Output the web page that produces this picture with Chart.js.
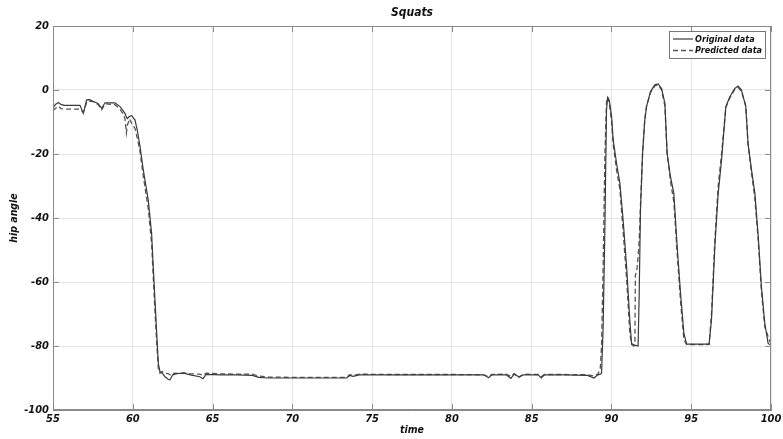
<!DOCTYPE html>
<html>
<head>
<meta charset="utf-8">
<script src="https://cdn.jsdelivr.net/npm/chart.js@4.4.1/dist/chart.umd.min.js"></script>
<style>
  html, body { margin: 0; padding: 0; background: #fff; }
</style>
</head>
<body>
<canvas id="chart" width="783" height="439"></canvas>
<script>
// time (s) and hip angle readings
const time = [
  55.00, 55.15, 55.33, 55.50, 55.70, 56.20, 56.69, 56.90, 57.11, 57.30,
  57.50, 57.82, 58.05, 58.26, 58.60, 58.88, 59.20, 59.40, 59.51, 59.60,
  59.66, 59.80, 59.93, 60.14, 60.28, 60.45, 60.66, 60.97, 61.18, 61.28,
  61.39, 61.50, 61.60, 61.70, 61.85, 62.02, 62.20, 62.33, 62.50, 62.80,
  63.20, 63.60, 64.20, 64.40, 64.60, 65.50, 66.50, 67.50, 67.90, 68.50,
  70.00, 72.00, 73.40, 73.60, 73.80, 74.20, 76.00, 78.00, 80.00, 82.00,
  82.30, 82.50, 83.40, 83.70, 83.90, 84.20, 84.50, 85.40, 85.60, 85.80,
  87.00, 88.50, 88.90, 89.15, 89.30, 89.38, 89.48, 89.59, 89.69, 89.76,
  89.86, 90.01, 90.11, 90.32, 90.53, 90.73, 90.95, 91.15, 91.26, 91.40,
  91.47, 91.50, 91.60, 91.67, 91.74, 91.82, 91.95, 92.09, 92.20, 92.45,
  92.72, 92.93, 93.14, 93.35, 93.49, 93.70, 93.91, 94.12, 94.33, 94.54,
  94.71, 95.54, 96.12, 96.27, 96.48, 96.69, 96.90, 97.17, 97.42, 97.73,
  97.94, 98.15, 98.42, 98.56, 98.78, 98.99, 99.20, 99.40, 99.61, 99.82,
  100.00
];
const originalData = [
  -5.7, -4.5, -3.9, -4.5, -4.8, -4.8, -4.8, -7.3, -3.1, -3.0,
  -3.5, -4.2, -5.7, -4.0, -4.0, -4.0, -5.2, -6.5, -7.3, -8.5,
  -8.9, -8.2, -8.0, -9.4, -12.5, -17.5, -25.0, -34.4, -44.8, -55.0,
  -65.6, -76.0, -85.4, -88.0, -88.5, -89.6, -90.3, -90.6, -89.0, -88.6,
  -88.5, -89.0, -89.6, -90.2, -88.9, -89.0, -89.0, -89.2, -89.8, -90.0,
  -90.0, -90.0, -90.0, -89.2, -89.5, -89.0, -89.0, -89.0, -89.0, -89.0,
  -89.9, -89.0, -89.0, -90.1, -88.8, -89.6, -89.0, -89.0, -90.0, -89.0,
  -89.0, -89.2, -90.0, -89.0, -88.8, -88.5, -74.0, -42.7, -6.3, -2.3,
  -3.1, -8.3, -15.6, -22.9, -29.2, -40.6, -55.2, -71.9, -79.2, -79.6,
  -79.7, -79.8, -79.9, -80.0, -63.5, -37.5, -19.8, -9.4, -5.2, -0.5,
  1.6, 1.9, 0.5, -4.2, -19.8, -27.1, -32.3, -49.0, -63.5, -76.0,
  -79.4, -79.4, -79.4, -71.9, -49.0, -32.3, -21.9, -5.2, -2.1, 0.5,
  1.25, 0.0, -5.2, -16.7, -25.0, -32.3, -45.8, -61.5, -72.9, -79.2,
  -79.8
];
const predictedData = [
  -6.5, -5.8, -5.0, -5.8, -6.0, -6.0, -6.0, -7.0, -3.8, -3.5,
  -3.6, -4.5, -6.2, -4.3, -4.5, -4.6, -6.0, -7.5, -9.0, -13.4,
  -11.0, -9.0, -10.5, -12.0, -15.0, -19.0, -27.0, -37.0, -48.0, -58.0,
  -69.0, -79.0, -87.0, -88.5, -88.0, -88.5, -88.6, -89.0, -88.5, -88.6,
  -88.4, -88.7, -88.8, -89.2, -88.5, -88.7, -88.8, -88.8, -89.4, -89.7,
  -89.8, -89.8, -89.8, -89.0, -89.2, -88.8, -88.9, -88.9, -88.9, -89.0,
  -89.6, -88.9, -88.8, -89.5, -88.6, -89.8, -88.8, -88.9, -89.6, -88.9,
  -88.9, -89.0, -89.4, -88.8, -87.0, -80.0, -55.0, -20.0, -4.0, -2.2,
  -4.0, -10.0, -17.0, -25.0, -31.0, -44.0, -59.0, -76.0, -79.5, -80.0,
  -79.5, -58.0, -56.0, -52.0, -47.0, -36.0, -20.0, -9.0, -5.0, -0.8,
  1.3, 1.6, 0.0, -5.0, -20.0, -28.5, -35.0, -51.0, -66.0, -78.0,
  -79.5, -79.6, -79.5, -70.0, -47.0, -30.0, -20.0, -5.5, -2.5, 0.2,
  0.8, -0.5, -5.0, -17.0, -26.0, -34.0, -47.0, -63.0, -74.0, -77.0,
  -79.5
];
const seriesNames = ["Original data", "Predicted data"];
const xTicks = [55, 60, 65, 70, 75, 80, 85, 90, 95, 100];
const yTicks = [-100, -80, -60, -40, -20, 0, 20];

const FAMILY = '"DejaVu Sans Condensed", "Liberation Sans Narrow", sans-serif';
const tickFont = { family: FAMILY, size: 11, style: "italic", weight: "bold" };
const labelFont = { family: FAMILY, size: 10.5, style: "italic", weight: "bold" };

function points(values) {
  return time.map((t, i) => ({ x: t, y: values[i] }));
}

// box, inward tick marks, title and legend, MATLAB-like
const framePlugin = {
  id: "frame",
  afterDraw(chart) {
    const { ctx, chartArea: a, scales } = chart;
    ctx.save();
    ctx.strokeStyle = "#8a8a8a";
    ctx.lineWidth = 1;
    ctx.strokeRect(a.left + 0.5, a.top + 0.5, a.right - a.left - 1, a.bottom - a.top - 1);
    ctx.beginPath();
    xTicks.forEach(v => {
      const px = Math.round(scales.x.getPixelForValue(v)) + 0.5;
      ctx.moveTo(px, a.bottom); ctx.lineTo(px, a.bottom - 6);
      ctx.moveTo(px, a.top); ctx.lineTo(px, a.top + 6);
    });
    yTicks.forEach(v => {
      const py = Math.round(scales.y.getPixelForValue(v)) + 0.5;
      ctx.moveTo(a.left, py); ctx.lineTo(a.left + 6, py);
      ctx.moveTo(a.right, py); ctx.lineTo(a.right - 6, py);
    });
    ctx.stroke();

    // title
    ctx.fillStyle = "#111";
    ctx.font = "italic bold 12px " + FAMILY;
    ctx.textAlign = "center";
    ctx.textBaseline = "middle";
    ctx.fillText("Squats", (a.left + a.right) / 2, 13);

    // legend
    const bx = a.right - 102, by = a.top + 5, bw = 96, bh = 27;
    ctx.fillStyle = "#fff";
    ctx.fillRect(bx, by, bw, bh);
    ctx.strokeStyle = "#777";
    ctx.strokeRect(bx + 0.5, by + 0.5, bw, bh);
    ctx.font = "italic bold 9px " + FAMILY;
    ctx.textAlign = "left";
    chart.data.datasets.forEach((ds, i) => {
      const ly = by + 8 + i * 11.5;
      ctx.strokeStyle = ds.borderColor;
      ctx.lineWidth = ds.borderWidth;
      ctx.setLineDash(ds.borderDash || []);
      ctx.beginPath();
      ctx.moveTo(bx + 4, ly); ctx.lineTo(bx + 24, ly);
      ctx.stroke();
      ctx.setLineDash([]);
      ctx.fillStyle = "#111";
      ctx.fillText(ds.label, bx + 26, ly + 0.5);
    });
    ctx.restore();
  }
};

new Chart(document.getElementById("chart"), {
  type: "line",
  data: {
    datasets: [
      {
        label: seriesNames[0],
        data: points(originalData),
        borderColor: "#3a3a3a",
        borderWidth: 1.2,
        pointRadius: 0,
        tension: 0,
        fill: false
      },
      {
        label: seriesNames[1],
        data: points(predictedData),
        borderColor: "#555",
        borderWidth: 1.3,
        borderDash: [5, 3],
        pointRadius: 0,
        tension: 0,
        fill: false
      }
    ]
  },
  options: {
    responsive: false,
    animation: false,
    layout: { padding: { top: 26, right: 12, left: 0, bottom: 0 } },
    plugins: {
      legend: { display: false },
      tooltip: { enabled: false },
      title: { display: false }
    },
    scales: {
      x: {
        type: "linear",
        min: 55,
        max: 100,
        afterBuildTicks(s) { s.ticks = xTicks.map(v => ({ value: v })); },
        ticks: { color: "#111", font: tickFont, padding: 3, maxRotation: 0 },
        grid: { color: "#e6e6e6", drawTicks: false },
        border: { color: "#8a8a8a" },
        title: { display: true, text: "time", color: "#111", font: labelFont, padding: { top: 0, bottom: 2 } },
        afterFit(s) { s.height = 29; s.paddingLeft = 0; s.paddingRight = 0; }
      },
      y: {
        min: -100,
        max: 20,
        afterBuildTicks(s) { s.ticks = yTicks.map(v => ({ value: v })); },
        ticks: { color: "#111", font: tickFont, padding: 4 },
        grid: { color: "#e6e6e6", drawTicks: false },
        border: { color: "#8a8a8a" },
        title: { display: true, text: "hip angle", color: "#111", font: labelFont, padding: { top: 8, bottom: 0 } },
        afterFit(s) { s.width = 53; s.paddingTop = 0; s.paddingBottom = 0; }
      }
    }
  },
  plugins: [framePlugin]
});
</script>
</body>
</html>
